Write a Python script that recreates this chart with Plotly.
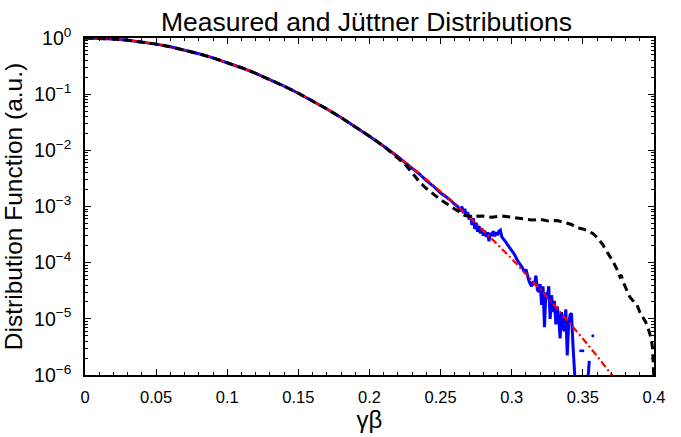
import plotly.graph_objects as go

# ---------------- data ----------------
# Juttner fit (red dash-dot): gamma*beta and log10 of distribution
x_fit = [0.00, 0.01, 0.02, 0.03, 0.04, 0.05, 0.06, 0.07, 0.08, 0.09,
         0.10, 0.11, 0.12, 0.13, 0.14, 0.15, 0.16, 0.17, 0.18, 0.19,
         0.20, 0.21, 0.22, 0.23, 0.24, 0.25, 0.26, 0.27, 0.28, 0.29,
         0.30, 0.31, 0.32, 0.33, 0.34, 0.35, 0.36, 0.37, 0.38]
log_fit = [0.000, -0.004, -0.017, -0.039, -0.070, -0.109, -0.157, -0.214, -0.280, -0.354,
           -0.437, -0.529, -0.629, -0.739, -0.857, -0.983, -1.119, -1.263, -1.416, -1.578,
           -1.748, -1.927, -2.115, -2.312, -2.517, -2.731, -2.954, -3.186, -3.426, -3.675,
           -3.933, -4.200, -4.475, -4.759, -5.052, -5.353, -5.664, -5.983, -6.310]

# Measured distribution (blue solid)
x_meas = [0.00, 0.01, 0.02, 0.03, 0.04, 0.05, 0.06, 0.07, 0.08, 0.09,
          0.10, 0.11, 0.12, 0.13, 0.14, 0.15, 0.16, 0.17, 0.18, 0.19,
          0.20, 0.21, 0.22, 0.23, 0.235, 0.24, 0.245, 0.25, 0.252, 0.254,
          0.256, 0.258, 0.260, 0.262, 0.264, 0.265, 0.266, 0.267, 0.268, 0.269,
          0.270, 0.271, 0.272, 0.273, 0.274, 0.275, 0.276, 0.277, 0.278, 0.279,
          0.280, 0.281, 0.282, 0.283, 0.284, 0.285, 0.286, 0.287, 0.288, 0.289,
          0.290, 0.291, 0.292, 0.293, 0.294, 0.295, 0.296, 0.297, 0.298, 0.299,
          0.300, 0.301, 0.302, 0.303, 0.304, 0.305, 0.306, 0.307, 0.308, 0.309,
          0.310, 0.311, 0.312, 0.313, 0.314, 0.315, 0.316, 0.317, 0.318, 0.319,
          0.320, 0.321, 0.322, 0.323, 0.324, 0.325, 0.326, 0.327, 0.328, 0.329,
          0.330, 0.331, 0.332, 0.333, 0.334, 0.335, 0.336, 0.337, 0.338, 0.339,
          0.340, 0.341, 0.342, 0.343, 0.344, 0.3445, None, 0.3535, 0.3545]
log_meas = [0.000, -0.004, -0.017, -0.039, -0.070, -0.109, -0.157, -0.214, -0.280, -0.354,
            -0.437, -0.529, -0.629, -0.739, -0.857, -0.983, -1.119, -1.263, -1.416, -1.578,
            -1.748, -1.927, -2.115, -2.320, -2.420, -2.540, -2.640, -2.760, -2.790, -2.830,
            -2.870, -2.920, -2.960, -3.000, -3.080, -3.000, -3.120, -3.040, -3.170, -3.100,
            -3.230, -3.150, -3.330, -3.210, -3.400, -3.290, -3.450, -3.350, -3.480, -3.390,
            -3.520, -3.430, -3.540, -3.460, -3.620, -3.470, -3.520, -3.440, -3.530, -3.460,
            -3.510, -3.440, -3.420, -3.540, -3.570, -3.620, -3.640, -3.680, -3.710, -3.740,
            -3.780, -3.820, -3.860, -3.920, -3.960, -4.000, -4.030, -4.070, -4.120, -4.170,
            -4.120, -4.250, -4.320, -4.380, -4.420, -4.330, -4.400, -4.230, -4.480, -4.520,
            -4.380, -4.750, -4.420, -5.150, -4.530, -4.640, -4.420, -5.000, -4.580, -4.880,
            -4.680, -5.100, -4.780, -4.980, -5.350, -4.880, -5.150, -5.220, -4.830, -5.650,
            -5.100, -4.930, -4.900, -5.450, -5.850, -6.100, None, -6.100, -5.750]

# isolated measured points (blue dots)
x_dots = [0.3485, 0.3500, 0.3570]
log_dots = [-5.57, -5.57, -5.30]

# Second measured distribution (black dashed)
x_meas2 = [0.00, 0.01, 0.02, 0.03, 0.04, 0.05, 0.06, 0.07, 0.08, 0.09,
           0.10, 0.11, 0.12, 0.13, 0.14, 0.15, 0.16, 0.17, 0.18, 0.19,
           0.20, 0.21, 0.215, 0.22, 0.222, 0.225, 0.23, 0.235, 0.24, 0.245,
           0.25, 0.256, 0.262, 0.267, 0.272, 0.279, 0.286, 0.293, 0.300, 0.307,
           0.314, 0.320, 0.326, 0.332, 0.337, 0.342, 0.346, 0.350, 0.353, 0.357,
           0.360, 0.364, 0.367, 0.371, 0.374, 0.376, 0.377, 0.378, 0.381, 0.383,
           0.386, 0.388, 0.390, 0.392, 0.394, 0.396, 0.398, 0.399, 0.3995, 0.400]
log_meas2 = [0.000, -0.004, -0.017, -0.039, -0.070, -0.109, -0.157, -0.214, -0.280, -0.354,
             -0.437, -0.529, -0.629, -0.739, -0.857, -0.983, -1.119, -1.263, -1.416, -1.578,
             -1.748, -1.927, -2.030, -2.140, -2.190, -2.250, -2.400, -2.560, -2.680, -2.780,
             -2.880, -2.980, -3.080, -3.160, -3.180, -3.170, -3.190, -3.170, -3.190, -3.220,
             -3.240, -3.230, -3.260, -3.250, -3.290, -3.320, -3.380, -3.400, -3.430, -3.480,
             -3.550, -3.680, -3.810, -3.970, -4.120, -4.250, -4.220, -4.320, -4.500, -4.610,
             -4.700, -4.750, -4.880, -4.960, -5.050, -5.180, -5.350, -5.520, -5.800, -6.100]

x_ticks = [0, 0.05, 0.1, 0.15, 0.2, 0.25, 0.3, 0.35, 0.4]
x_tick_text = ["0", "0.05", "0.1", "0.15", "0.2", "0.25", "0.3", "0.35", "0.4"]
y_ticks = [1e-6, 1e-5, 1e-4, 1e-3, 1e-2, 1e-1, 1e0]
y_tick_text = ["10<sup>−6</sup>", "10<sup>−5</sup>", "10<sup>−4</sup>", "10<sup>−3</sup>",
               "10<sup>−2</sup>", "10<sup>−1</sup>", "10<sup>0</sup>"]

title_text = "Measured and Jüttner Distributions"
x_title = "γβ"
y_title = "Distribution Function (a.u.)"


def to_lin(vals):
    return [None if v is None else 10 ** v for v in vals]


FONT = "Liberation Sans, Arial, Helvetica, sans-serif"

fig = go.Figure()
fig.add_trace(go.Scatter(x=x_meas, y=to_lin(log_meas), mode="lines",
                         line=dict(color="#0000ff", width=3), connectgaps=False,
                         showlegend=False))
fig.add_trace(go.Scatter(x=x_dots, y=to_lin(log_dots), mode="markers",
                         marker=dict(color="#0000ff", size=3), showlegend=False))
fig.add_trace(go.Scatter(x=x_fit, y=to_lin(log_fit), mode="lines",
                         line=dict(color="#ff0000", width=2.2, dash="7px,3px,2px,3px"),
                         showlegend=False))
fig.add_trace(go.Scatter(x=x_meas2, y=to_lin(log_meas2), mode="lines",
                         line=dict(color="#000000", width=3, dash="8px,5px"),
                         showlegend=False))

axis_common = dict(showline=True, linecolor="black", linewidth=1.5, mirror="ticks",
                   ticks="inside", tickcolor="black", tickwidth=1, ticklen=6,
                   showgrid=False, zeroline=False)

fig.update_xaxes(range=[0, 0.4], tickvals=x_ticks, ticktext=x_tick_text,
                 tickfont=dict(family=FONT, size=16.5, color="black"),
                 title=dict(text=x_title, font=dict(family=FONT, size=24, color="black"),
                            standoff=3),
                 minor=dict(ticks="inside", dtick=0.01, ticklen=3, tickcolor="black"),
                 ticklabelstandoff=6,
                 **axis_common)
fig.update_yaxes(type="log", range=[-6, 0], tickvals=y_ticks, ticktext=y_tick_text,
                 tickfont=dict(family=FONT, size=19.5, color="black"),
                 title=dict(text=y_title, font=dict(family=FONT, size=24.5, color="black"),
                            standoff=5),
                 minor=dict(ticks="inside", dtick="D1", ticklen=3, tickcolor="black"),
                 ticklabelstandoff=8,
                 **axis_common)

fig.update_layout(
    width=681, height=437,
    margin=dict(l=79, r=27, t=38, b=49, pad=0),
    paper_bgcolor="white", plot_bgcolor="white",
    title=dict(text=title_text, font=dict(family=FONT, size=26.5, color="black"),
               x=(79 + 654) / 2 / 681, xanchor="center", y=1 - 31 / 437, yanchor="bottom",
               pad=dict(b=0)),
)

fig.write_html("out.html")
